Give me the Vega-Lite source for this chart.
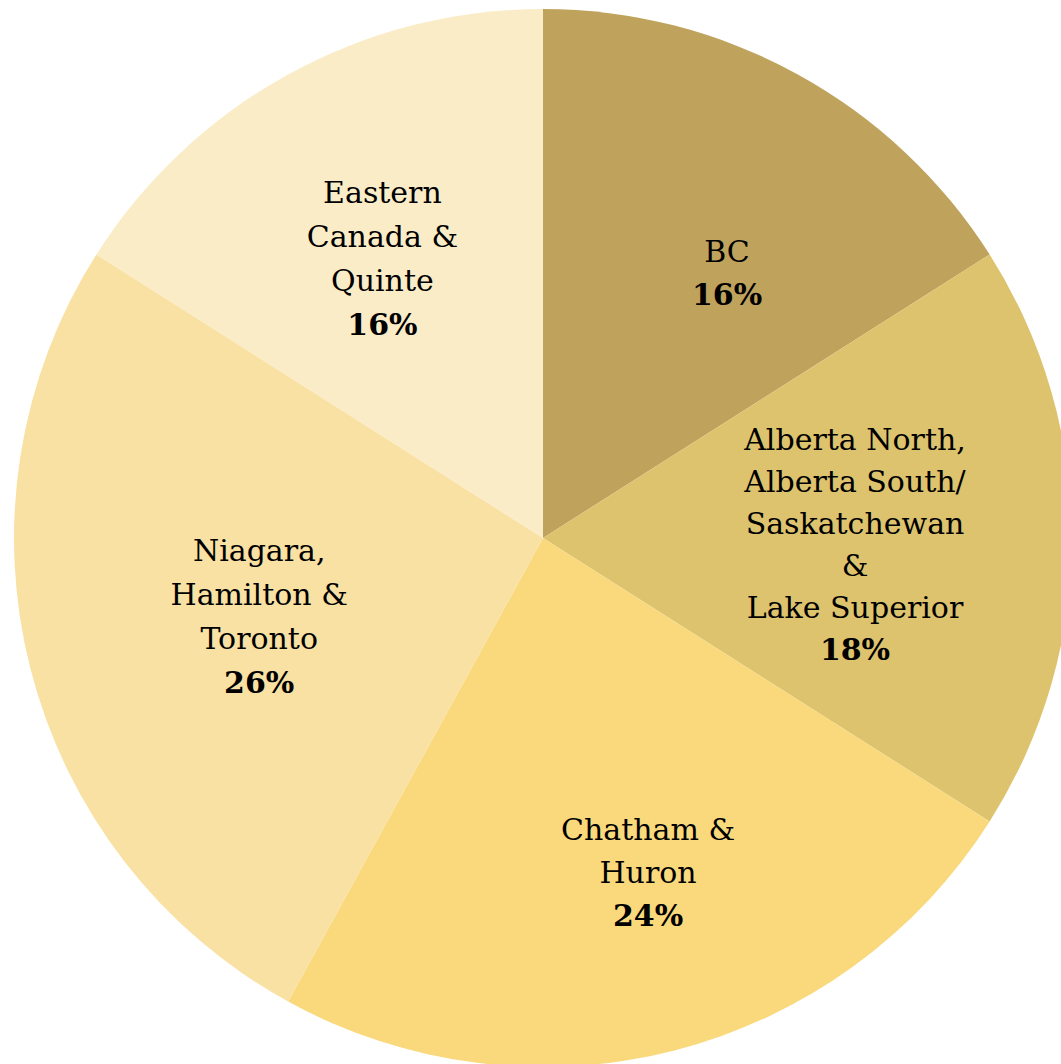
{
  "$schema": "https://vega.github.io/schema/vega-lite/v6.json",
  "width": 1061,
  "height": 1064,
  "padding": 0,
  "autosize": {"type": "none"},
  "background": "white",
  "config": {"view": {"stroke": null}, "text": {"font": "DejaVu Serif", "fontSize": 30, "lineHeight": 43, "align": "center", "baseline": "middle", "color": "black"}},
  "data": {
    "values": [
      {"rank": 1, "region": "BC", "name": ["BC"], "pctText": "16%", "pct": 16},
      {"rank": 2, "region": "Alberta", "name": ["Alberta North,", "Alberta South/", "Saskatchewan", "&", "Lake Superior"], "pctText": "18%", "pct": 18},
      {"rank": 3, "region": "Chatham", "name": ["Chatham &", "Huron"], "pctText": "24%", "pct": 24},
      {"rank": 4, "region": "Niagara", "name": ["Niagara,", "Hamilton &", "Toronto"], "pctText": "26%", "pct": 26},
      {"rank": 5, "region": "Eastern", "name": ["Eastern", "Canada &", "Quinte"], "pctText": "16%", "pct": 16}
    ]
  },
  "encoding": {
    "theta": {"field": "pct", "type": "quantitative", "stack": true},
    "order": {"field": "rank", "type": "quantitative"},
    "x": {"value": 543},
    "y": {"value": 538}
  },
  "layer": [
    {
      "mark": {"type": "arc", "radius": 529},
      "encoding": {
        "color": {
          "field": "region",
          "type": "nominal",
          "scale": {
            "domain": ["BC", "Alberta", "Chatham", "Niagara", "Eastern"],
            "range": ["#BFA35C", "#DDC36D", "#F9D97C", "#F9E1A4", "#FBECC8"]
          },
          "legend": null
        }
      }
    },
    {
      "mark": {"type": "text", "radius": 326, "dx": 27, "dy": 0.5},
      "encoding": {"text": {"condition": {"test": "datum.region === 'BC'", "field": "name"}, "value": ""}}
    },
    {
      "mark": {"type": "text", "radius": 326, "dx": 27, "dy": 43.5, "fontWeight": "bold"},
      "encoding": {"text": {"condition": {"test": "datum.region === 'BC'", "field": "pctText"}, "value": ""}}
    },
    {
      "mark": {"type": "text", "radius": 312, "lineHeight": 42, "dy": -97.5},
      "encoding": {"text": {"condition": {"test": "datum.region === 'Alberta'", "field": "name"}, "value": ""}}
    },
    {
      "mark": {"type": "text", "radius": 312, "dy": 112.5, "fontWeight": "bold"},
      "encoding": {"text": {"condition": {"test": "datum.region === 'Alberta'", "field": "pctText"}, "value": ""}}
    },
    {
      "mark": {"type": "text", "radius": 350, "dx": 18, "dy": -46},
      "encoding": {"text": {"condition": {"test": "datum.region === 'Chatham'", "field": "name"}, "value": ""}}
    },
    {
      "mark": {"type": "text", "radius": 350, "dx": 18, "dy": 40, "fontWeight": "bold"},
      "encoding": {"text": {"condition": {"test": "datum.region === 'Chatham'", "field": "pctText"}, "value": ""}}
    },
    {
      "mark": {"type": "text", "radius": 293, "lineHeight": 44, "dy": -58.5},
      "encoding": {"text": {"condition": {"test": "datum.region === 'Niagara'", "field": "name"}, "value": ""}}
    },
    {
      "mark": {"type": "text", "radius": 293, "dy": 73.5, "fontWeight": "bold"},
      "encoding": {"text": {"condition": {"test": "datum.region === 'Niagara'", "field": "pctText"}, "value": ""}}
    },
    {
      "mark": {"type": "text", "radius": 325, "lineHeight": 44, "dx": -4, "dy": -59.5},
      "encoding": {"text": {"condition": {"test": "datum.region === 'Eastern'", "field": "name"}, "value": ""}}
    },
    {
      "mark": {"type": "text", "radius": 325, "dx": -4, "dy": 72.5, "fontWeight": "bold"},
      "encoding": {"text": {"condition": {"test": "datum.region === 'Eastern'", "field": "pctText"}, "value": ""}}
    }
  ]
}
